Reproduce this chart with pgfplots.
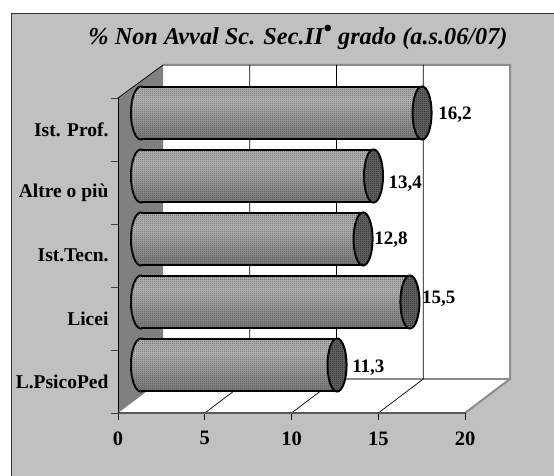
\documentclass[border=0pt]{standalone}
\usepackage{pgfplots}
\pgfplotsset{compat=1.18}
\usepackage{fontspec}
\setmainfont{Liberation Serif}
\usetikzlibrary{patterns,shapes.geometric}
\definecolor{bgc}{HTML}{C0C0C0}
\definecolor{wallc}{HTML}{808080}
\definecolor{edgec}{HTML}{8C8C8C}
\definecolor{c0}{HTML}{303030}
\definecolor{c1}{HTML}{707070}
\definecolor{c2}{HTML}{C0C0C0}
\definecolor{c3}{HTML}{989898}
\pgfdeclareverticalshading{cyl}{100bp}{color(0bp)=(c0); color(22bp)=(c1); color(62bp)=(c2); color(100bp)=(c3)}
\pgfdeclarepatternformonly{dith}{\pgfpointorigin}{\pgfqpoint{2pt}{2pt}}{\pgfqpoint{2pt}{2pt}}{%
  \pgfpathrectangle{\pgfqpoint{0pt}{0pt}}{\pgfqpoint{1pt}{1pt}}%
  \pgfpathrectangle{\pgfqpoint{1pt}{1pt}}{\pgfqpoint{1pt}{1pt}}%
  \pgfusepath{fill}}
\newcommand{\fs}{\fontsize{19.5}{22}\selectfont\bfseries}
\newcommand{\fn}{\fontsize{19}{22}\selectfont\bfseries}
\newcommand{\ft}{\fontsize{20.5}{22}\selectfont\bfseries}
\begin{document}
\begin{tikzpicture}[x=1pt,y=1pt]
\useasboundingbox (0,0) rectangle (554,476);
% frame
\fill[white] (0,0) rectangle (554,476);
\fill[bgc] (11.5,0) rectangle (554,462.5);
\draw[black!80,line width=1.5pt] (11.5,0) -- (11.5,462.5) -- (554,462.5);
% planes
\fill[white] (163,97) rectangle (510,411);
\fill[white] (118,63) -- (465,63) -- (510,97) -- (163,97) -- cycle;
\fill[wallc] (118,63) -- (163,97) -- (163,411) -- (118,378) -- cycle;
\draw[edgec,line width=2pt] (163,411) -- (510,411) -- (510,97) -- (465,63);
\draw[edgec,line width=2pt] (163,97) -- (510,97);
\draw[black,line width=0.7pt] (118,378) -- (163,411);
% grid
\foreach \a/\b in {204.8/249.8,291.5/336.5,378.3/423.3}{
  \draw[black,line width=0.7pt] (\a,63) -- (\b,97) -- (\b,411);
}
\begin{axis}[
  name=front, at={(118pt,63pt)}, anchor=south west,
  scale only axis, width=347pt, height=315pt,
  xmin=0, xmax=20, ymin=0, ymax=5,
  axis lines=left, axis line style={-},
  x axis line style={draw=black!65,line width=1.2pt},
  y axis line style={draw=black,line width=0.7pt},
  /pgf/number format/assume math mode=true,
  xtick={0,5,10,15,20},
  ytick={0.5,1.5,2.5,3.5,4.5},
  yticklabels={L.PsicoPed,Licei,Ist.Tecn.,Altre o più,Ist. Prof.},
  minor ytick={0,1,2,3,4,5},
  tick align=outside,
  major tick length=7pt, minor tick length=7pt,
  major x tick style={black,line width=0.7pt},
  major y tick style={draw=none},
  minor y tick style={black!75,line width=0.7pt},
  yticklabel style={font=\fs,text=black,xshift=1pt},
  xticklabel style={font=\ft,text=black,yshift=-8pt},
]
\end{axis}
% left caps: an axis of their own, so that the bodies cover them
\begin{axis}[
  at={(141pt,79.5pt)}, anchor=south west,
  scale only axis, width=347pt, height=315pt,
  xmin=0, xmax=20, ymin=0, ymax=5,
  hide axis, clip=false,
]
\addplot[draw=none,mark=none,
  nodes near coords={},
  every node near coord/.style={ellipse,anchor=center,inner sep=0pt,minimum width=20pt,minimum height=53pt,
    draw=black,line width=2pt,shading=cyl,postaction={pattern=dith,pattern color=black!65}}]
  coordinates {(0,0.5)(0,1.5)(0,2.5)(0,3.5)(0,4.5)};
\end{axis}
\begin{axis}[
  at={(141pt,79.5pt)}, anchor=south west,
  scale only axis, width=347pt, height=315pt,
  xmin=0, xmax=20, ymin=0, ymax=5,
  hide axis, clip=false,
  body/.style={xbar,bar width=53pt,bar shift=0pt,draw=none,shading=cyl},
  dots/.style={xbar,bar width=53pt,bar shift=0pt,draw=none,pattern=dith,pattern color=black!65},
]
% bodies
\addplot[body] coordinates {(11.3,0.5)};
\addplot[body] coordinates {(15.5,1.5)};
\addplot[body] coordinates {(12.8,2.5)};
\addplot[body] coordinates {(13.4,3.5)};
\addplot[body] coordinates {(16.2,4.5)};
\addplot[dots] coordinates {(11.3,0.5)(15.5,1.5)(12.8,2.5)(13.4,3.5)(16.2,4.5)};
% top and bottom edges
\addplot[black,line width=2pt,unbounded coords=jump] table {
x y
0 0.92
11.3 0.92
nan nan
0 0.08
11.3 0.08
nan nan
0 1.92
15.5 1.92
nan nan
0 1.08
15.5 1.08
nan nan
0 2.92
12.8 2.92
nan nan
0 2.08
12.8 2.08
nan nan
0 3.92
13.4 3.92
nan nan
0 3.08
13.4 3.08
nan nan
0 4.92
16.2 4.92
nan nan
0 4.08
16.2 4.08
};
% right caps
\addplot[draw=none,mark=none,
  nodes near coords={},
  every node near coord/.style={ellipse,anchor=center,inner sep=0pt,minimum width=19pt,minimum height=53pt,
    draw=black,line width=2pt,fill=black!60,postaction={pattern=dith,pattern color=black!85}}]
  coordinates {(11.3,0.5)(15.5,1.5)(12.8,2.5)(13.4,3.5)(16.2,4.5)};
% values
\addplot[draw=none,mark=none,
  visualization depends on={\thisrow{dx}\as\dx},
  visualization depends on={\thisrow{dy}\as\dy},
  point meta=explicit symbolic,
  nodes near coords,
  every node near coord/.style={anchor=west,inner sep=0pt,font=\fn,text=black,xshift=\dx pt,yshift=\dy pt}]
  table[meta=lab] {
x y dx dy lab
11.3 0.5 15 -3 11,3
15.5 1.5 12 3 15,5
12.8 2.5 11 -1 12,8
13.4 3.5 15 -8 13,4
16.2 4.5 16 -2 16,2
};
\end{axis}
\node[font=\fontsize{24.3}{26}\selectfont\bfseries\itshape,text=black] at (298,438.5) {\% Non Avval Sc. Sec.II\raisebox{0.3em}{\normalfont\bfseries •} grado (a.s.06/07)};
\end{tikzpicture}
\end{document}
